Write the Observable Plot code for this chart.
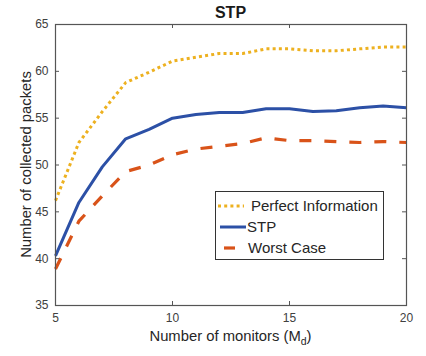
<!DOCTYPE html>
<html>
<head>
<meta charset="utf-8">
<script src="https://cdn.jsdelivr.net/npm/d3@7"></script>
<script src="https://cdn.jsdelivr.net/npm/@observablehq/plot@0.6"></script>
<style>
  html, body { margin: 0; padding: 0; background: #fff; }
  svg { display: block; }
</style>
</head>
<body>
<div id="chart"></div>
<script>
const monitors = [5, 6, 7, 8, 9, 10, 11, 12, 13, 14, 15, 16, 17, 18, 19, 20];
const perfectInfo = [46.2, 52.4, 55.7, 58.8, 59.9, 61.1, 61.5, 61.9, 61.9, 62.4, 62.4, 62.2, 62.2, 62.4, 62.6, 62.6];
const stp =         [40.3, 46.0, 49.8, 52.8, 53.8, 55.0, 55.4, 55.6, 55.6, 56.0, 56.0, 55.7, 55.8, 56.1, 56.3, 56.1];
const worstCase =   [38.9, 44.0, 46.7, 49.3, 50.0, 51.1, 51.7, 52.0, 52.3, 52.9, 52.6, 52.6, 52.5, 52.4, 52.5, 52.4];
const xTicks = [5, 10, 15, 20];
const yTicks = [35, 40, 45, 50, 55, 60, 65];
const seriesNames = ["Perfect Information", "STP", "Worst Case"];
const titleText = "STP";
const xLabel = "Number of monitors (M";
const xLabelSub = "d";
const yLabel = "Number of collected packets";

const colors = { "Perfect Information": "#EDB120", "STP": "#2c50a6", "Worst Case": "#D95319" };
const styles = {
  "Perfect Information": { strokeWidth: 3, dash: "3,3.2" },
  "STP": { strokeWidth: 3, dash: null },
  "Worst Case": { strokeWidth: 3.2, dash: "12,13" }
};

const W = 426, H = 356;
const mt = 24, mb = 51, ml = 55, mr = 20;
const fw = W - ml - mr, fh = H - mt - mb;

const rows = (vals) => monitors.map((m, i) => ({ x: m, y: vals[i] }));
const seriesData = {
  "Perfect Information": rows(perfectInfo),
  "STP": rows(stp),
  "Worst Case": rows(worstCase)
};

const lineMark = (name) => Plot.line(seriesData[name], {
  x: "x", y: "y", stroke: colors[name],
  strokeWidth: styles[name].strokeWidth,
  strokeDasharray: styles[name].dash,
  strokeLinejoin: "round",
  strokeLinecap: "butt"
});

const plot = Plot.plot({
  width: W, height: H,
  marginTop: mt, marginBottom: mb, marginLeft: ml, marginRight: mr,
  style: { fontFamily: "Liberation Sans, Arial, sans-serif", fontSize: "12px", color: "#404040", background: "#fff" },
  x: { domain: [5, 20] },
  y: { domain: [35, 65] },
  marks: [
    lineMark("Perfect Information"),
    lineMark("STP"),
    lineMark("Worst Case"),
    Plot.frame({ stroke: "#555", strokeWidth: 1.2 }),
    Plot.tickX(xTicks, { x: d => d, insetTop: fh - 4, stroke: "#555" }),
    Plot.tickX(xTicks, { x: d => d, insetBottom: fh - 4, stroke: "#555" }),
    Plot.tickY(yTicks, { y: d => d, insetRight: fw - 4, stroke: "#555" }),
    Plot.tickY(yTicks, { y: d => d, insetLeft: fw - 4, stroke: "#555" }),
    Plot.axisX({ ticks: xTicks, tickSize: 0, tickPadding: 8, label: null, fill: "#404040", fontSize: 12 }),
    Plot.axisY({ ticks: yTicks, tickSize: 0, tickPadding: 7, label: null, fill: "#404040", fontSize: 12 })
  ]
});

const svg = d3.select(plot);
const font = "Liberation Sans, Arial, sans-serif";

// Title
svg.append("text")
  .attr("x", ml + fw / 2).attr("y", 18)
  .attr("text-anchor", "middle")
  .attr("font-family", font).attr("font-size", 16).attr("font-weight", "bold")
  .attr("fill", "#1a1a1a")
  .text(titleText);

// X label with subscript
const xl = svg.append("text")
  .attr("x", ml + fw / 2).attr("y", 341)
  .attr("text-anchor", "middle")
  .attr("font-family", font).attr("font-size", 14.8)
  .attr("fill", "#262626");
xl.append("tspan").text(xLabel);
xl.append("tspan").attr("font-size", 10.5).attr("dy", 4).text(xLabelSub);
xl.append("tspan").attr("dy", -4).text(")");

// Y label
svg.append("text")
  .attr("transform", `translate(31,${mt + fh / 2}) rotate(-90)`)
  .attr("text-anchor", "middle")
  .attr("font-family", font).attr("font-size", 14.8)
  .attr("fill", "#262626")
  .text(yLabel);

// Legend
const lg = svg.append("g");
lg.append("rect")
  .attr("x", 215.5).attr("y", 191.5).attr("width", 168).attr("height", 68)
  .attr("fill", "#fff").attr("stroke", "#333").attr("stroke-width", 1);
const legendRows = [
  { name: "Perfect Information", y: 206, x1: 218, x2: 244, tx: 251 },
  { name: "STP", y: 227, x1: 220, x2: 246, tx: 247 },
  { name: "Worst Case", y: 248, x1: 224, x2: 235, tx: 248 }
];
legendRows.forEach(r => {
  lg.append("line")
    .attr("x1", r.x1).attr("x2", r.x2).attr("y1", r.y).attr("y2", r.y)
    .attr("stroke", colors[r.name])
    .attr("stroke-width", styles[r.name].strokeWidth)
    .attr("stroke-linecap", "butt")
    .attr("stroke-dasharray", r.name === "Perfect Information" ? styles[r.name].dash : null);
  lg.append("text")
    .attr("x", r.tx).attr("y", r.y + 5)
    .attr("text-anchor", "start")
    .attr("font-family", font).attr("font-size", 15)
    .attr("fill", "#262626")
    .text(r.name);
});

document.getElementById("chart").appendChild(plot);
</script>
</body>
</html>
